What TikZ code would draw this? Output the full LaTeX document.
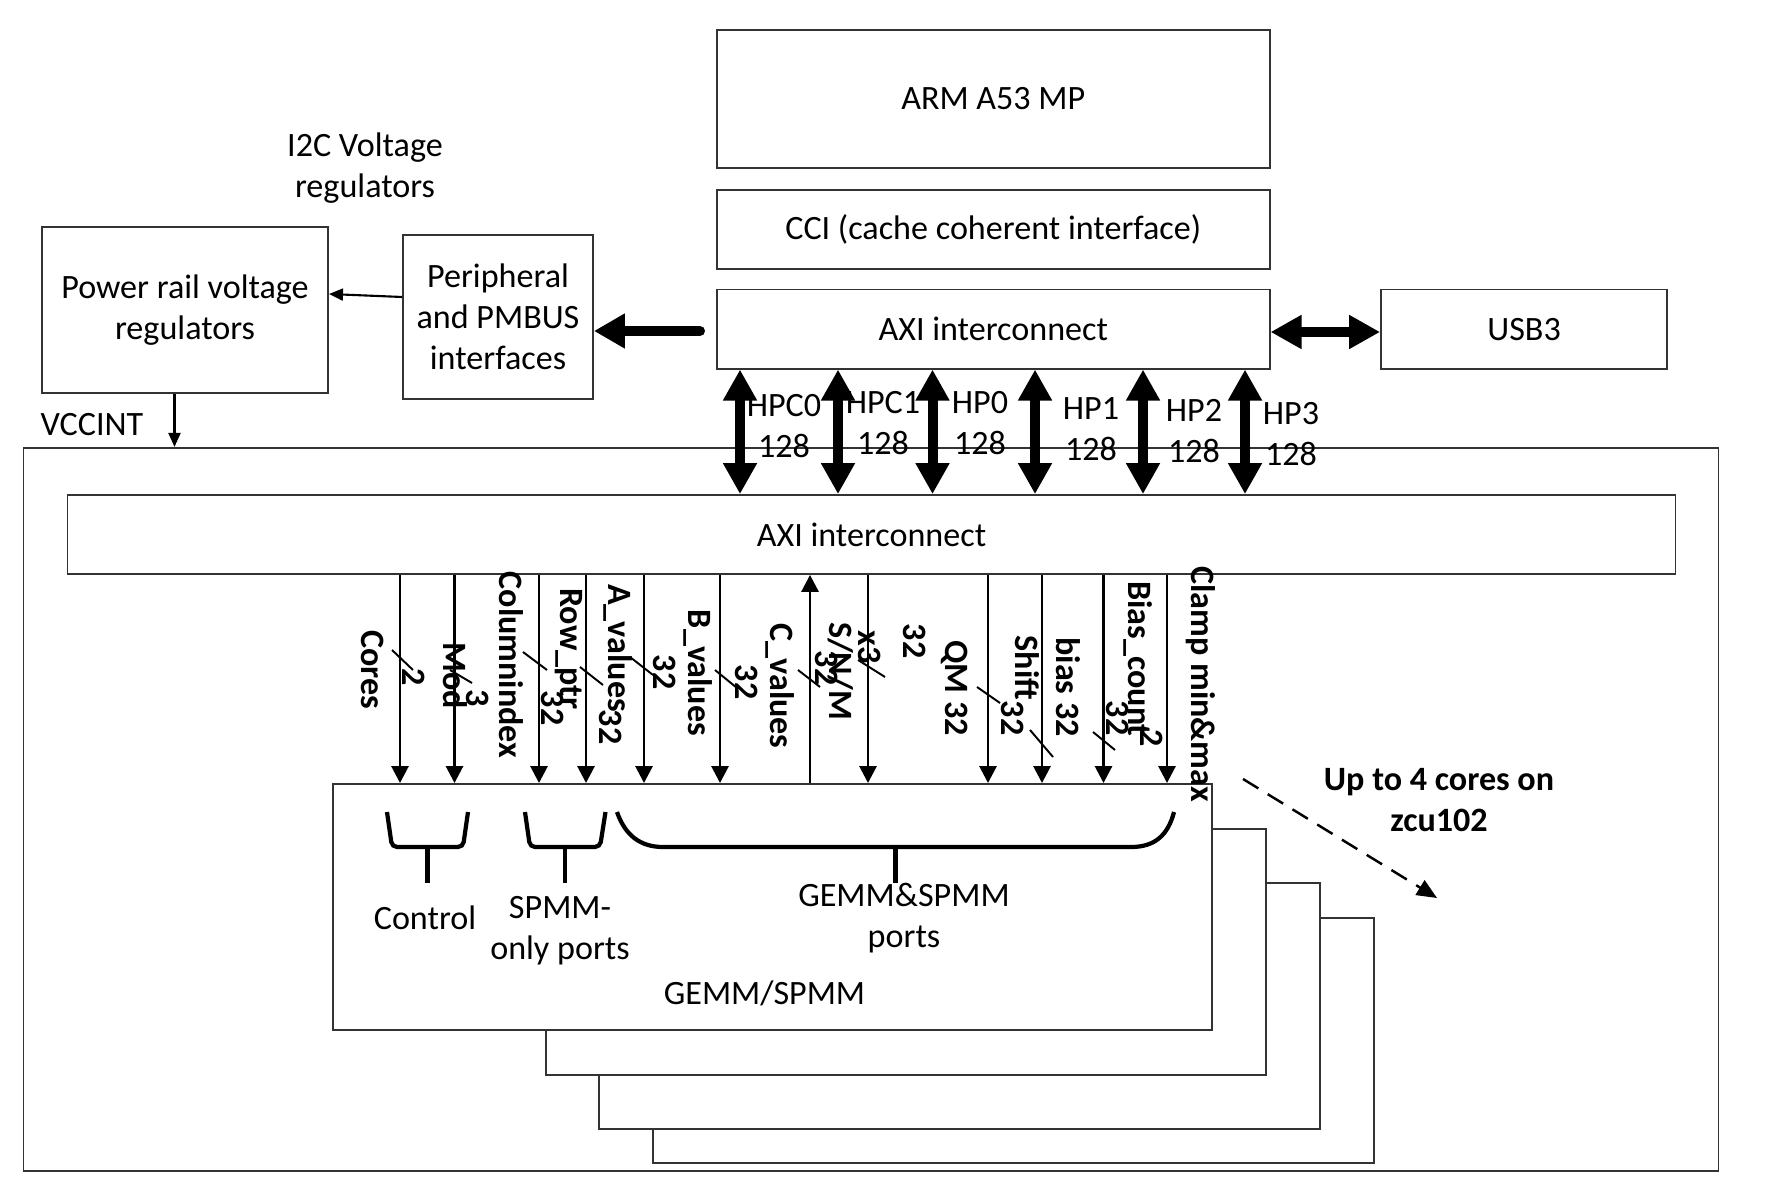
\documentclass[tikz,border=0pt]{standalone}
\usepackage{fontspec}
\setmainfont{Carlito}
\usepackage{tikz}
\usetikzlibrary{arrows.meta,positioning}
\newcommand{\fsz}{\fontsize{9.7}{11.6}\selectfont}
\tikzset{
  blk/.style={draw=black!80, line width=0.5pt, fill=white, align=center, inner sep=0pt, font=\fsz},
  txt/.style={align=center, inner sep=0pt, font=\fsz},
  sigtxt/.style={rotate=-90, inner sep=0pt, font=\fsz\bfseries},
  bus/.style={{Triangle[length=0.31cm,width=0.32cm]}-{Triangle[length=0.31cm,width=0.32cm]}, line width=0.1cm},
  fat/.style={-{Triangle[length=0.31cm,width=0.33cm]}, line width=0.1cm, line cap=round},
  sig/.style={-{Triangle[length=0.17cm,width=0.17cm]}, line width=0.8pt},
  thinarr/.style={-{Triangle[length=0.14cm,width=0.12cm]}, line width=0.6pt},
  tick/.style={line width=0.55pt},
  brace/.style={line width=1.2pt},
  more/.style={-{Triangle[length=0.2cm,width=0.17cm]}, line width=0.7pt, dash pattern=on 0.18cm off 0.11cm}
}
\begin{document}
\begin{tikzpicture}[x=0.01cm, y=-0.01cm, font=\fsz]
  \useasboundingbox (0,0) rectangle (1783,1195);

  % processing system
  \node[blk, minimum width=5.525cm, minimum height=1.38cm] (arm) at (993.25,99) {ARM A53 MP};
  \node[blk, minimum width=5.525cm, minimum height=0.79cm, below=0.2cm of arm] (cci) {CCI (cache coherent interface)};
  \node[blk, minimum width=5.525cm, minimum height=0.79cm, below=0.19cm of cci] (axitop) {AXI interconnect};
  \node[blk, minimum width=2.86cm, minimum height=0.79cm, right=1.095cm of axitop] (usb) {USB3};
  \node[blk, minimum width=1.9cm, minimum height=1.64cm] (periph) at (498,317) {Peripheral\\and PMBUS\\interfaces};
  \node[blk, minimum width=2.86cm, minimum height=1.66cm] (power) at (185,310) {Power rail voltage\\regulators};
  \node[txt] (i2c) at (365,168) {I2C Voltage\\regulators};
  \node[txt] (vcc) at (92,425) {VCCINT};

  \coordinate (pmtail) at (700,331);
  \draw[fat] (pmtail) -- (periph.east |- pmtail);
  \draw[thinarr] (periph.west |- 0,297) -- (power.east |- 0,294);
  \draw[bus] (axitop.east |- 0,332) -- (usb.west |- 0,332);

  % programmable logic
  \node[blk, minimum width=16.94cm, minimum height=7.23cm] (outer) at (871,809.5) {};
  \node[blk, minimum width=16.07cm, minimum height=0.79cm] (axiin) at (871.5,534.5) {AXI interconnect};
  \draw[thinarr] (174.5,0 |- power.south) -- (174.5,0 |- outer.north);

  \foreach \x/\lx/\ly/\hp in {740/784/426/HPC0, 838/883/423/HPC1, 932.5/980/423/HP0,
                              1035/1091/429/HP1, 1143/1194/431/HP2, 1245/1291/434/HP3}{
    \draw[bus] (\x,0 |- axitop.south) -- (\x,0 |- axiin.north);
    \node[txt] (\hp) at (\lx,\ly) {\hp\\128};
  }

  % accelerator cores
  \node[blk, minimum width=7.21cm, minimum height=2.45cm] (core3) at (1013.5,1040.5) {};
  \node[blk, minimum width=7.21cm, minimum height=2.46cm] (core2) at (959.5,1006) {};
  \node[blk, minimum width=7.2cm, minimum height=2.46cm] (core1) at (906,952) {};
  \node[blk, minimum width=8.79cm, minimum height=2.46cm] (front) at (772.5,907) {};
  \node[txt] (gemmlbl) at (764.5,993) {GEMM/SPMM};

  \foreach \x in {400,454.5,539,586,644,720,868,988,1042,1103.5,1167}
    \draw[sig] (\x,0 |- axiin.south) -- (\x,0 |- front.north);
  \draw[sig] (810,0 |- front.north) -- (810,0 |- axiin.south);

  \foreach \xa/\ya/\xb/\yb in {392/650/413/670, 450/670/472/683, 523/652/547/670, 580/667/603/685,
                               630/657/653/675, 715/670/737/688, 798/670/820/687, 858/660/885/677,
                               977/687/1000/703, 1030/730/1053/757, 1093/732/1115/750}
    \draw[tick] (\xa,\ya) -- (\xb,\yb);

  \node[sigtxt] (lcores) at (373,670) {Cores};
  \node[sigtxt] (wcores) at (414,677) {2};
  \node[sigtxt] (lmod) at (455,676) {Mod};
  \node[sigtxt] (wmod) at (478,698) {3};
  \node[sigtxt] (lcol) at (511,665) {Columnindex};
  \node[sigtxt] (wcol) at (553,708) {32};
  \node[sigtxt] (lrow) at (568.5,649) {Row\_ptr};
  \node[sigtxt] (wrow) at (611,727) {32};
  \node[sigtxt] (la) at (618,648) {A\_values};
  \node[sigtxt] (wa) at (665,672) {32};
  \node[sigtxt] (lb) at (698,673) {B\_values};
  \node[sigtxt] (wb) at (747,682) {32};
  \node[sigtxt] (lc) at (780,686) {C\_values};
  \node[sigtxt] (wc) at (827,668) {32};
  \node[sigtxt] (lsnm) at (841,671) {S/N/M};
  \node[sigtxt] (lx3) at (870,647) {x3};
  \node[sigtxt] (wsnm) at (915,641) {32};
  \node[sigtxt] (lqm) at (955,688) {QM 32};
  \node[sigtxt] (lshift) at (1027,668) {Shift};
  \node[sigtxt] (wshift) at (1013,718) {32};
  \node[sigtxt] (lbias) at (1068,687) {bias 32};
  \node[sigtxt] (lbcnt) at (1138,659) {Bias\_count};
  \node[sigtxt] (wbcnt) at (1118,718) {32};
  \node[sigtxt] (wclamp) at (1152,738) {2};
  \node[sigtxt] (lclamp) at (1201,684) {Clamp min\&max};

  % port groups
  \draw[brace, rounded corners=0.05cm] (387,812) -- (392,847) -- (463,847) -- (468,812);
  \draw[brace] (427.5,847) -- (427.5,883);
  \draw[brace, rounded corners=0.05cm] (525,812) -- (530,847) -- (600,847) -- (605.5,812);
  \draw[brace] (565,847) -- (565,883);
  \draw[brace] (617,812) .. controls (625,835) and (640,847) .. (663,847) -- (1131,847)
    .. controls (1155,847) and (1168,835) .. (1174,812);
  \draw[brace] (895.5,847) -- (895.5,883);
  \node[txt] (ctrl) at (425,918) {Control};
  \node[txt] (spmmonly) at (560,931) {SPMM-\\only ports};
  \node[txt] (both) at (904,918) {GEMM\&SPMM\\ports};

  \coordinate (moretail) at (1243,779);
  \coordinate (morehead) at (1437,898);
  \draw[more] (moretail) -- (morehead);
  \node[txt, font=\fsz\bfseries] (upto) at (1439,800) {Up to 4 cores on\\zcu102};
\end{tikzpicture}
\end{document}
